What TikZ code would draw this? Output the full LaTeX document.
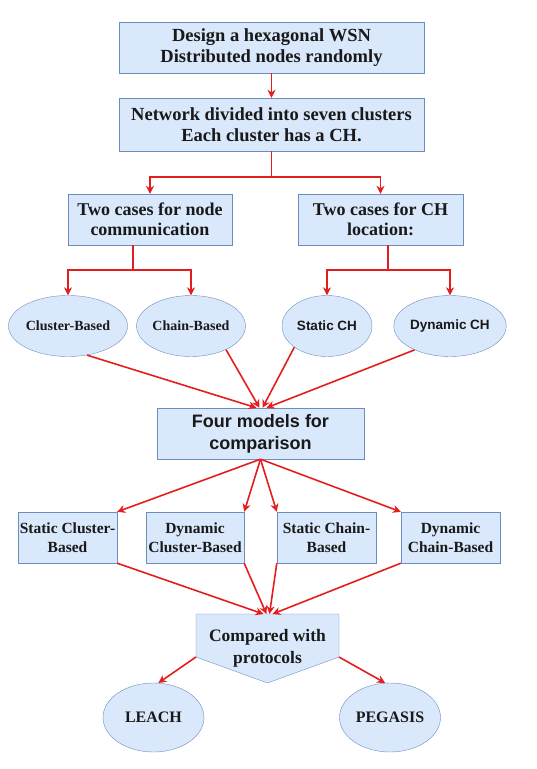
\documentclass[tikz,border=0pt]{standalone}
\usepackage{fontspec}
\setmainfont{Liberation Serif}
\newfontfamily\arialfont{Liberation Sans}
\usetikzlibrary{arrows.meta,shapes.geometric}
\definecolor{boxfill}{RGB}{218,232,252}
\definecolor{boxline}{RGB}{108,142,191}
\definecolor{arrred}{RGB}{228,30,30}

\begin{document}
\begin{tikzpicture}[x=1pt,y=-1pt,
  box/.style={draw=boxline,fill=boxfill,inner sep=0pt,align=center,text=black!90,font=\bfseries\fontsize{18.5}{21}\selectfont},
  oval/.style={ellipse,draw=boxline,fill=boxfill,inner sep=0pt,minimum width=90pt,minimum height=61pt,text=black!90,font=\bfseries\fontsize{14}{16}\selectfont},
  line/.style={draw=arrred,line width=1.6pt},
  arr/.style={line,->},
  >={Stealth[length=8pt,width=8pt]}]
\useasboundingbox (0,0) rectangle (536,769);

% top part
\node[box,minimum width=305pt,minimum height=51pt] (design) at (271.5,47.5) {Design a hexagonal WSN\\Distributed nodes randomly};
\node[box,minimum width=305pt,minimum height=53pt] (divide) at (271.5,124.5) {Network divided into seven clusters\\Each cluster has a CH.};
\node[box,minimum width=164pt,minimum height=51pt,font=\bfseries\fontsize{18}{20}\selectfont] (comm) at (150,219.5) {Two cases for node\\communication};
\node[box,minimum width=165pt,minimum height=51pt,font=\bfseries\fontsize{18}{20}\selectfont] (loc) at (380.5,219.5) {Two cases for CH\\location:};

\node[oval] (clb) at (68,326) {Cluster-Based};
\node[oval] (chb) at (191,326) {Chain-Based};
\node[oval,font=\arialfont\bfseries\fontsize{13.5}{16}\selectfont] (sch) at (327,326) {Static CH};
\node[oval,font=\arialfont\bfseries\fontsize{13.5}{16}\selectfont] (dch) at (450,326) {Dynamic CH};

\coordinate (j1) at (271.5,177);
\coordinate (j2) at (133,270);
\coordinate (j3) at (388,270);

\draw[arr] (design) -- (divide);
\draw[line] (divide) -- (j1);
\draw[arr] (j1) -| (comm);
\draw[arr] (j1) -| (loc);
\draw[line] (comm.south -| j2) -- (j2);
\draw[arr] (j2) -| (clb);
\draw[arr] (j2) -| (chb);
\draw[line] (loc.south -| j3) -- (j3);
\draw[arr] (j3) -| (sch);
\draw[arr] (j3) -| (dch);

% models
\node[box,minimum width=207pt,minimum height=51pt,font=\arialfont\bfseries\fontsize{18}{22}\selectfont] (four) at (260.5,433.5) {Four models for\\comparison};

\draw[arr] (clb.-57) -- ([xshift=-4pt]four.north);
\draw[arr] (chb.-34) -- ([xshift=-1pt]four.north);
\draw[arr] (sch.-147) -- ([xshift=2pt]four.north);
\draw[arr] (dch.-146) -- ([xshift=6pt]four.north);

\node[box,minimum width=99pt,minimum height=51pt,font=\bfseries\fontsize{15.5}{19}\selectfont] (scb) at (67.5,537.5) {Static Cluster-\\Based};
\node[box,minimum width=98pt,minimum height=51pt,font=\bfseries\fontsize{15.5}{19}\selectfont] (dcb) at (195,537.5) {Dynamic\\Cluster-Based};
\node[box,minimum width=99pt,minimum height=51pt,font=\bfseries\fontsize{15.5}{19}\selectfont] (schb) at (326.5,537.5) {Static Chain-\\Based};
\node[box,minimum width=99pt,minimum height=51pt,font=\bfseries\fontsize{15.5}{19}\selectfont] (dchb) at (450.5,537.5) {Dynamic\\Chain-Based};

\draw[arr] (four.south) -- (scb.north east);
\draw[arr] (four.south) -- (dcb.north east);
\draw[arr] (four.south) -- (schb.north west);
\draw[arr] (four.south) -- (dchb.north west);

% comparison
\draw[draw=boxline,fill=boxfill] (196,614) -- (339,614) -- (339,657) -- (267.5,683) -- (196,657) -- cycle;
\coordinate (cmptop) at (267.5,614);
\coordinate (cmpl) at (196,657);
\coordinate (cmpr) at (339,657);
\node[align=center,inner sep=0pt,text=black!90,font=\bfseries\fontsize{17.5}{22}\selectfont] (cmp) at (267.5,648) {Compared with\\protocols};

\draw[arr] (scb.south east) -- ([xshift=-4pt]cmptop);
\draw[arr] (dcb.south east) -- ([xshift=-1pt]cmptop);
\draw[arr] (schb.south west) -- ([xshift=2pt]cmptop);
\draw[arr] (dchb.south west) -- ([xshift=5pt]cmptop);

\node[oval,minimum width=101pt,minimum height=69pt,font=\bfseries\fontsize{16}{18}\selectfont] (leach) at (153.5,717.5) {LEACH};
\node[oval,minimum width=101pt,minimum height=69pt,font=\bfseries\fontsize{16}{18}\selectfont] (pegasis) at (390,717.5) {PEGASIS};

\draw[arr] (cmpl) -- (leach.82);
\draw[arr] (cmpr) -- (pegasis.98);
\end{tikzpicture}
\end{document}
